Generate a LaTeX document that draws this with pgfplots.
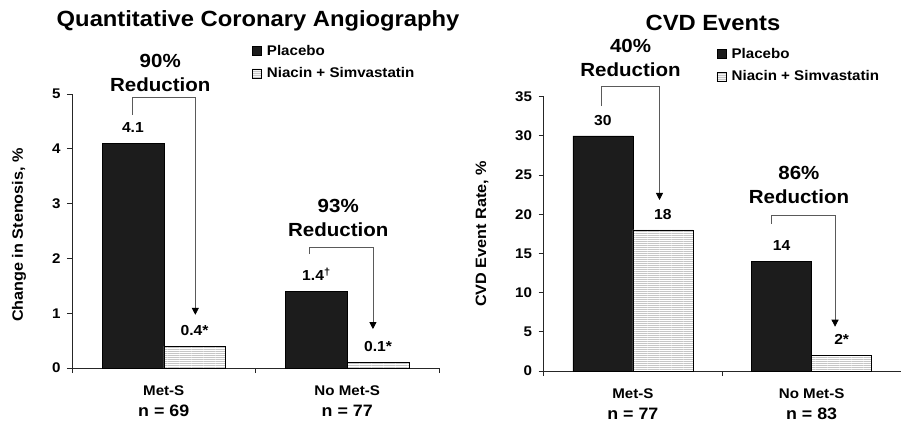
\documentclass[border=0pt]{standalone}
\usepackage{pgfplots}
\pgfplotsset{compat=1.18}
\usepackage{fontspec}
\setmainfont{Liberation Sans}[FakeStretch=1.08]
\usetikzlibrary{arrows.meta,patterns.meta}

\definecolor{barblack}{HTML}{1C1C1C}
\definecolor{bracketgray}{HTML}{5A5A5A}
\definecolor{stripe}{HTML}{A8A8A8}

% fine horizontal hatching for the treatment bars
\tikzdeclarepattern{
  name=thinhlines,
  type=uncolored,
  bottom left={(0pt,0pt)},
  top right={(12pt,2pt)},
  tile size={(12pt,2pt)},
  code={\fill (-0.5pt,0.6pt) rectangle (12.5pt,1.4pt);}
}

\tikzset{
  reduction/.style={align=center, font=\bfseries\fontsize{19}{24}\selectfont},
  panel title/.style={anchor=base, font=\bfseries\fontsize{22}{26}\selectfont},
  bracket/.style={draw=bracketgray, line width=0.8pt,
    -{Triangle[width=7pt,length=7pt,color=black]}},
}

\pgfplotsset{
  sqlegend/.style={legend image code/.code={\draw[##1] (0pt,-4.5pt) rectangle (9pt,4.5pt);}},
  panel/.style={
    scale only axis, anchor=south west,
    ybar, bar width=0.336,
    xmin=-0.5, xmax=1.5, ymin=0, enlargelimits=false,
    axis x line*=bottom, axis y line*=left,
    axis line style={black!85, line width=0.8pt},
    tick align=outside, major tick length=5pt,
    every tick/.style={black!85, line width=0.8pt},
    xtick={-0.5,0.5,1.5}, xticklabels={},
    extra x ticks={0,1},
    extra x tick style={major tick length=0pt,
      tick label style={align=center, font=\bfseries\fontsize{14}{21.5}\selectfont, yshift=-14pt}},
    /pgf/number format/assume math mode=true,
    tick label style={font=\bfseries\fontsize{14}{16}\selectfont, text=black},
    y tick label style={xshift=-3pt},
    ylabel style={font=\bfseries\fontsize{15}{17}\selectfont, anchor=center},
    clip=false,
    nodes near coords, point meta=explicit symbolic,
    every node near coord/.append style={font=\bfseries\fontsize{14.5}{16}\selectfont, text=black, yshift=7pt},
    legend style={draw=none, fill=none, anchor=north west, inner sep=0pt,
      font=\bfseries\fontsize{14}{16}\selectfont, row sep=8pt,
      nodes={inner sep=1.5pt},
      /tikz/every odd column/.append style={column sep=4pt}},
    legend cell align=left,
  },
}

\begin{document}
\begin{tikzpicture}
\path[use as bounding box] (0,0) rectangle (901pt,428pt);

% ---------- angiography panel ----------
\begin{axis}[panel,
  at={(72pt,60pt)}, width=367pt, height=274pt,
  ymax=5, ytick={0,1,2,3,4,5},
  extra x tick labels={{Met-S\\{\fontsize{16.5}{21.5}\selectfont n = 69}},{No Met-S\\{\fontsize{16.5}{21.5}\selectfont n = 77}}},
  ylabel={Change in Stenosis, \%},
  ylabel style={at={(axis description cs:-0.144,0.485)}},
  legend style={at={(axis description cs:0.49,1.185)}},
]
\addplot[fill=barblack, draw=black, bar shift=-0.168, sqlegend]
  coordinates {(0,4.1) [4.1] (1,1.4) [1.4\textsuperscript{†}]};
\addplot[fill=white, draw=black, bar shift=0.168, sqlegend,
  postaction={pattern=thinhlines, pattern color=stripe}]
  coordinates {(0,0.4) [0.4*] (1,0.1) [0.1*]};
\legend{Placebo, Niacin + Simvastatin}

\node[panel title] at (axis description cs:0.507,1.248) {Quantitative Coronary Angiography};
\draw[bracket] (axis cs:-0.17,4.62) |- (axis cs:0.172,4.93) -- (axis cs:0.172,0.97);
\node[reduction] at (axis cs:-0.019,5.38) {90\%\\Reduction};
\draw[bracket] (axis cs:0.793,2.08) |- (axis cs:1.140,2.195) -- (axis cs:1.140,0.71);
\node[reduction] at (axis cs:0.951,2.74) {93\%\\Reduction};
\end{axis}

% ---------- events panel ----------
\begin{axis}[panel,
  at={(543.5pt,57pt)}, width=357.5pt, height=274.3pt,
  ymax=35, ytick={0,5,...,35},
  extra x tick labels={{Met-S\\{\fontsize{16.5}{21.5}\selectfont n = 77}},{No Met-S\\{\fontsize{16.5}{21.5}\selectfont n = 83}}},
  ylabel={CVD Event Rate, \%},
  ylabel style={at={(axis description cs:-0.172,0.5)}},
  legend style={at={(axis description cs:0.484,1.183)}},
]
\addplot[fill=barblack, draw=black, bar shift=-0.168, sqlegend]
  coordinates {(0,30) [30] (1,14) [14]};
\addplot[fill=white, draw=black, bar shift=0.168, sqlegend,
  postaction={pattern=thinhlines, pattern color=stripe}]
  coordinates {(0,18) [18] (1,2) [2*]};
\legend{Placebo, Niacin + Simvastatin}

\node[panel title] at (axis description cs:0.474,1.243) {CVD Events};
\draw[bracket] (axis cs:-0.176,33.81) |- (axis cs:0.149,36.28) -- (axis cs:0.149,21.82);
\node[reduction] at (axis cs:-0.013,39.98) {40\%\\Reduction};
\draw[bracket] (axis cs:0.776,18.76) |- (axis cs:1.131,19.82) -- (axis cs:1.131,5.65);
\node[reduction] at (axis cs:0.929,23.73) {86\%\\Reduction};
\end{axis}
\end{tikzpicture}
\end{document}
